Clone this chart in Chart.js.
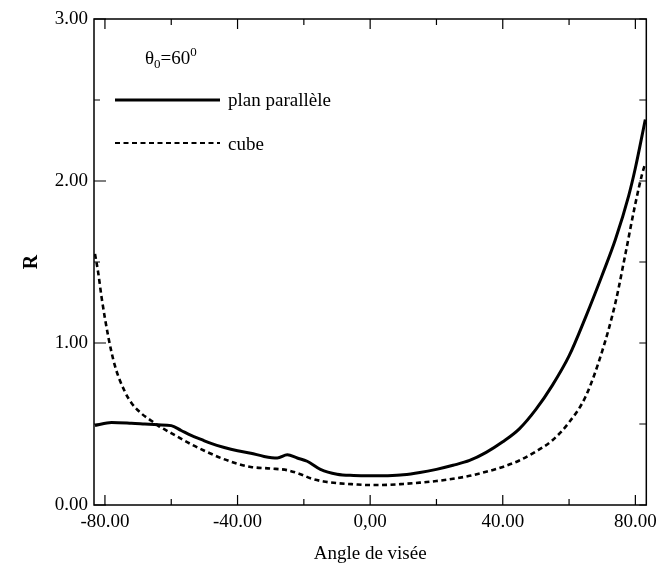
<!DOCTYPE html>
<html>
<head>
<meta charset="utf-8">
<script src="https://cdn.jsdelivr.net/npm/chart.js@4.4.1/dist/chart.umd.min.js"></script>
<style>
html,body{margin:0;padding:0;background:#fff;}
#wrap{width:663px;height:566px;}
</style>
</head>
<body>
<div id="wrap"><canvas id="c" width="663" height="566"></canvas></div>
<script>
// Series: plan parallèle (solid)
const planAngles = [-83,-78,-72,-68,-64,-60,-57,-54,-51,-48,-44,-40,-36,-32,-28,-25,-22,-19,-15,-10,-5,0,5,10,15,20,25,30,35,40,45,50,55,60,65,70,74,78,80,83];
const planR      = [0.49,0.51,0.505,0.50,0.495,0.49,0.46,0.43,0.405,0.38,0.355,0.335,0.32,0.30,0.29,0.31,0.29,0.27,0.22,0.19,0.182,0.18,0.181,0.186,0.20,0.22,0.245,0.275,0.325,0.39,0.47,0.59,0.74,0.92,1.16,1.42,1.64,1.91,2.08,2.38];
// Series: cube (dashed)
const cubeAngles = [-83,-82,-81,-79,-77,-74,-72,-69,-66,-64,-61,-58,-54,-50,-45,-40,-36,-30,-25,-21,-18,-14,-10,-5,0,5,10,15,20,25,30,35,40,45,50,55,60,65,70,74,77,80,82,83];
const cubeR      = [1.55,1.43,1.28,1.04,0.86,0.70,0.63,0.565,0.52,0.49,0.455,0.42,0.375,0.335,0.29,0.255,0.235,0.225,0.215,0.19,0.165,0.145,0.135,0.128,0.123,0.124,0.13,0.138,0.148,0.162,0.18,0.205,0.235,0.275,0.33,0.40,0.51,0.67,0.95,1.25,1.55,1.86,2.04,2.11];
// Tick labels
const xTickValues = [-80,-40,0,40,80];
const xTickLabels = ["-80.00","-40.00","0,00","40.00","80.00"];
const yTickValues = [0,1,2,3];
const yTickLabels = ["0.00","1.00","2.00","3.00"];
const seriesNames = ["plan parallèle","cube"];
const xTitle = "Angle de visée";
const yTitle = "R";

const toPts = (xs, ys) => xs.map((x,i)=>({x:x,y:ys[i]}));
const SERIF = "'Liberation Serif','Times New Roman',serif";

const framePlugin = {
  id:'frame',
  afterDatasetsDraw(chart){
    const {ctx, chartArea:a, scales:{x,y}} = chart;
    ctx.save();
    ctx.strokeStyle='#000';
    ctx.lineWidth=1.5;
    ctx.strokeRect(a.left,a.top,a.right-a.left,a.bottom-a.top);
    ctx.lineWidth=1.2;
    ctx.beginPath();
    for(let v=-80; v<=80; v+=20){
      const px=x.getPixelForValue(v);
      const L = (v%40===0)?10:6;
      ctx.moveTo(px,a.bottom); ctx.lineTo(px,a.bottom-L);
      ctx.moveTo(px,a.top); ctx.lineTo(px,a.top+L);
    }
    for(let v=0; v<=3; v+=0.5){
      const py=y.getPixelForValue(v);
      const L = (Number.isInteger(v))?12:6;
      ctx.moveTo(a.left,py); ctx.lineTo(a.left+L,py);
      ctx.moveTo(a.right,py); ctx.lineTo(a.right-7,py);
    }
    ctx.stroke();
    // legend
    ctx.fillStyle='#000';
    ctx.textBaseline='alphabetic';
    ctx.font='19px '+SERIF;
    let tx=145, ty=64;
    ctx.fillText('θ',tx,ty); tx+=ctx.measureText('θ').width;
    ctx.font='13px '+SERIF;
    ctx.fillText('0',tx,ty+4); tx+=ctx.measureText('0').width;
    ctx.font='19px '+SERIF;
    ctx.fillText('=60',tx,ty); tx+=ctx.measureText('=60').width;
    ctx.font='13px '+SERIF;
    ctx.fillText('0',tx,ty-8);
    ctx.lineWidth=3;
    ctx.beginPath(); ctx.moveTo(115,100); ctx.lineTo(220,100); ctx.stroke();
    ctx.lineWidth=2.2; ctx.setLineDash([5,3.5]);
    ctx.beginPath(); ctx.moveTo(115,143); ctx.lineTo(220,143); ctx.stroke();
    ctx.setLineDash([]);
    ctx.font='19px '+SERIF;
    ctx.textBaseline='middle';
    ctx.fillText(seriesNames[0],228,101);
    ctx.fillText(seriesNames[1],228,145);
    ctx.restore();
  }
};

new Chart(document.getElementById('c'),{
  type:'line',
  data:{datasets:[
    {label:seriesNames[0],data:toPts(planAngles,planR),borderColor:'#000',borderWidth:3,pointRadius:0,cubicInterpolationMode:'monotone',fill:false},
    {label:seriesNames[1],data:toPts(cubeAngles,cubeR),borderColor:'#000',borderWidth:2.6,borderDash:[5,3.5],pointRadius:0,cubicInterpolationMode:'monotone',fill:false}
  ]},
  options:{
    responsive:false,animation:false,
    layout:{padding:{top:19,right:13,left:0,bottom:0}},
    plugins:{legend:{display:false},tooltip:{enabled:false}},
    scales:{
      x:{type:'linear',min:-83.3,max:83.3,
        afterFit(s){s.height=61;},
        afterBuildTicks(s){s.ticks=xTickValues.map(v=>({value:v}));},
        grid:{display:false,drawTicks:false},border:{display:false},
        ticks:{color:'#000',font:{family:SERIF,size:19},padding:6,maxRotation:0,autoSkip:false,
          callback:(v)=>{const i=xTickValues.indexOf(v);return i>=0?xTickLabels[i]:'';}},
        title:{display:true,text:xTitle,color:'#000',font:{family:SERIF,size:19},padding:{top:0,bottom:1}}
      },
      y:{type:'linear',min:0,max:3,
        afterFit(s){s.width=94;},
        afterBuildTicks(s){s.ticks=yTickValues.map(v=>({value:v}));},
        grid:{display:false,drawTicks:false},border:{display:false},
        ticks:{color:'#000',font:{family:SERIF,size:19},padding:6,autoSkip:false,
          callback:(v)=>{const i=yTickValues.indexOf(v);return i>=0?yTickLabels[i]:'';}},
        title:{display:true,text:yTitle,color:'#000',font:{family:SERIF,size:20,weight:'bold'},padding:{top:20,bottom:0}}
      }
    }
  },
  plugins:[framePlugin]
});
</script>
</body>
</html>
